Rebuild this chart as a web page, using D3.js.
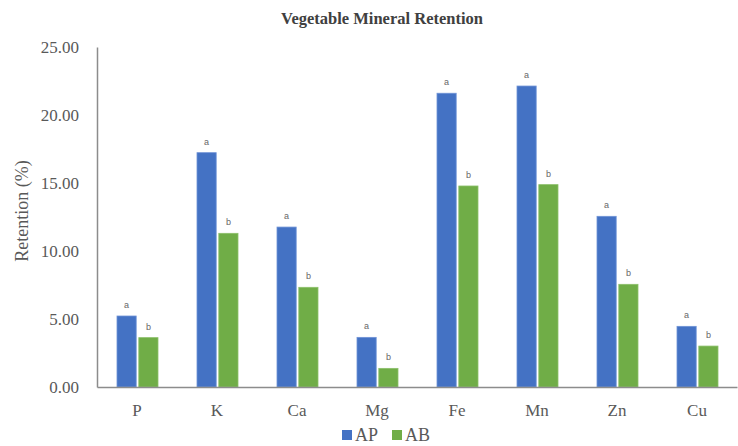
<!DOCTYPE html>
<html>
<head>
<meta charset="utf-8">
<script src="https://cdn.jsdelivr.net/npm/d3@7"></script>
<style>
  html, body { margin: 0; padding: 0; background: #fff; }
  svg { display: block; }
</style>
</head>
<body>
<svg id="chart" width="738" height="446"></svg>
<script>
const categories = ["P", "K", "Ca", "Mg", "Fe", "Mn", "Zn", "Cu"];
const seriesNames = ["AP", "AB"];
const apValues = [5.22, 17.23, 11.76, 3.65, 21.6, 22.13, 12.55, 4.46];
const abValues = [3.63, 11.3, 7.33, 1.37, 14.78, 14.88, 7.55, 3.01];
const apLetters = ["a", "a", "a", "a", "a", "a", "a", "a"];
const abLetters = ["b", "b", "b", "b", "b", "b", "b", "b"];
const yTicks = [0, 5, 10, 15, 20, 25];
const colors = ["#4472C4", "#70AD47"];

const svg = d3.select("#chart");
const margin = { left: 97, right: 1, top: 47, bottom: 59 };
const W = 738, H = 446;

const x0 = d3.scaleBand().domain(categories).range([margin.left, W - margin.right]).paddingInner(0).paddingOuter(0);
const x1 = d3.scaleBand().domain(seriesNames).range([20, 80 - 19]).paddingInner(0.12);
const y = d3.scaleLinear().domain([0, 25]).range([H - margin.bottom, margin.top]);

// Title
svg.append("text")
  .attr("x", 382).attr("y", 24)
  .attr("text-anchor", "middle")
  .attr("font-family", "Liberation Serif, serif")
  .attr("font-weight", "bold")
  .attr("font-size", 16.5)
  .attr("fill", "#404040")
  .text("Vegetable Mineral Retention");

// Y axis
const yAxis = d3.axisLeft(y).tickValues(yTicks).tickFormat(d3.format(".2f")).tickSize(0).tickPadding(18);
const gy = svg.append("g").attr("transform", `translate(${margin.left},0)`).call(yAxis);
gy.select(".domain").attr("stroke", "#8c8c8c").attr("stroke-width", 1.5);
gy.selectAll("text")
  .attr("font-family", "Liberation Serif, serif")
  .attr("font-size", 17)
  .attr("fill", "#595959");

// Y axis title
svg.append("text")
  .attr("transform", `translate(28,${(y(0) + y(25)) / 2 - 6}) rotate(-90)`)
  .attr("text-anchor", "middle")
  .attr("font-family", "Liberation Serif, serif")
  .attr("font-size", 18)
  .attr("fill", "#595959")
  .text("Retention (%)");

// Bars
const data = categories.map((c, i) => ({
  cat: c,
  vals: [
    { s: "AP", v: apValues[i], l: apLetters[i] },
    { s: "AB", v: abValues[i], l: abLetters[i] }
  ]
}));

const groups = svg.append("g").selectAll("g").data(data).join("g")
  .attr("transform", d => `translate(${x0(d.cat)},0)`);

groups.selectAll("rect").data(d => d.vals).join("rect")
  .attr("x", d => x1(d.s))
  .attr("width", x1.bandwidth())
  .attr("y", d => y(d.v))
  .attr("height", d => y(0) - y(d.v))
  .attr("fill", (d, i) => colors[i])
  .attr("stroke", (d, i) => i === 0 ? "#6f93d6" : "#8cc06a")
  .attr("stroke-width", 0.8);

groups.selectAll("text.letter").data(d => d.vals).join("text")
  .attr("class", "letter")
  .attr("x", d => x1(d.s) + x1.bandwidth() / 2)
  .attr("y", d => y(d.v) - 8)
  .attr("text-anchor", "middle")
  .attr("font-family", "Liberation Sans, Arial, sans-serif")
  .attr("font-size", 9)
  .attr("fill", "#666666")
  .text(d => d.l);

// X axis
const xAxis = d3.axisBottom(x0).tickSize(0).tickPadding(17);
const gx = svg.append("g").attr("transform", `translate(0,${y(0)})`).call(xAxis);
gx.select(".domain").attr("stroke", "#8c8c8c").attr("stroke-width", 1.5);
gx.selectAll("text")
  .attr("font-family", "Liberation Serif, serif")
  .attr("font-size", 17)
  .attr("fill", "#595959");

// Legend
const legend = svg.append("g");
const legendX = [342, 392];
seriesNames.forEach((s, i) => {
  legend.append("rect")
    .attr("x", legendX[i]).attr("y", 430)
    .attr("width", 10).attr("height", 10)
    .attr("fill", colors[i]);
  legend.append("text")
    .attr("x", legendX[i] + 13).attr("y", 441)
    .attr("font-family", "Liberation Serif, serif")
    .attr("font-size", 18)
    .attr("fill", "#595959")
    .text(s);
});
</script>
</body>
</html>
